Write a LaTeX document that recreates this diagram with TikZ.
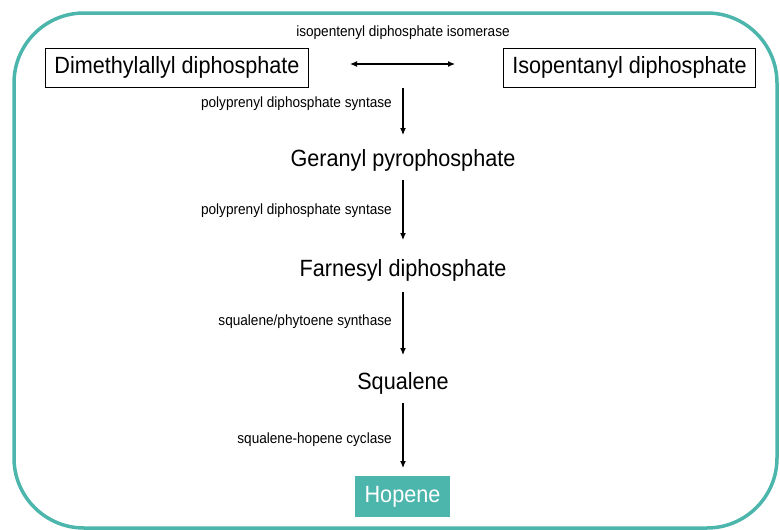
\documentclass[tikz,border=0pt]{standalone}
\usepackage{fontspec}
\usetikzlibrary{arrows.meta}
\setmainfont{Liberation Sans}[FakeStretch=0.92]
\definecolor{teal1}{RGB}{77,182,172}
\begin{document}
\begin{tikzpicture}[x=1pt,y=-1pt,
  big/.style={font=\fontsize{23.5}{27}\selectfont, inner sep=0pt},
  bigbox/.style={big, draw=black, line width=0.8pt, minimum height=39pt, inner xsep=9pt},
  lab/.style={font=\fontsize{14.8}{17}\selectfont, inner sep=0pt},
  arr/.style={-{Latex[length=7pt,width=6pt]}, line width=1.1pt}]
\useasboundingbox (0,0) rectangle (780,530);
\draw[teal1, line width=3.5pt, rounded corners=70pt] (14,13) rectangle (777,528);
\node[lab] (iso) at (403,33) {isopentenyl diphosphate isomerase};
\node[bigbox, anchor=center] (dma) at (177,67.5) {Dimethylallyl diphosphate};
\node[bigbox, anchor=center] (ipp) at (629.5,67.5) {Isopentanyl diphosphate};
\coordinate (dl) at (350,64);
\coordinate (dr) at (455,64);
\draw[{Latex[length=7pt,width=6pt]}-{Latex[length=7pt,width=6pt]}, line width=1.1pt] (dl) -- (dr);
\coordinate (t1) at (403,88);
\node[big] (ger) at (403,160) {Geranyl pyrophosphate};
\node[big] (far) at (403,270) {Farnesyl diphosphate};
\node[big] (sq) at (403,383) {Squalene};
\node[font=\fontsize{23.5}{27}\selectfont, fill=teal1, text=white, minimum width=95pt, minimum height=41pt, inner sep=0pt] (hop) at (402.5,496.5) {Hopene};
\draw[arr] (t1) -- (403,135) coordinate (b1);
\draw[arr] (403,180) coordinate (t2) -- (403,240) coordinate (b2);
\draw[arr] (403,292) coordinate (t3) -- (403,355) coordinate (b3);
\draw[arr] (403,403) coordinate (t4) -- (403,468) coordinate (b4);
\node[lab, anchor=east] (l1) at (392,104) {polyprenyl diphosphate syntase};
\node[lab, anchor=east] (l2) at (392,211) {polyprenyl diphosphate syntase};
\node[lab, anchor=east] (l3) at (392,322) {squalene/phytoene synthase};
\node[lab, anchor=east] (l4) at (392,440) {squalene-hopene cyclase};
\end{tikzpicture}
\end{document}
